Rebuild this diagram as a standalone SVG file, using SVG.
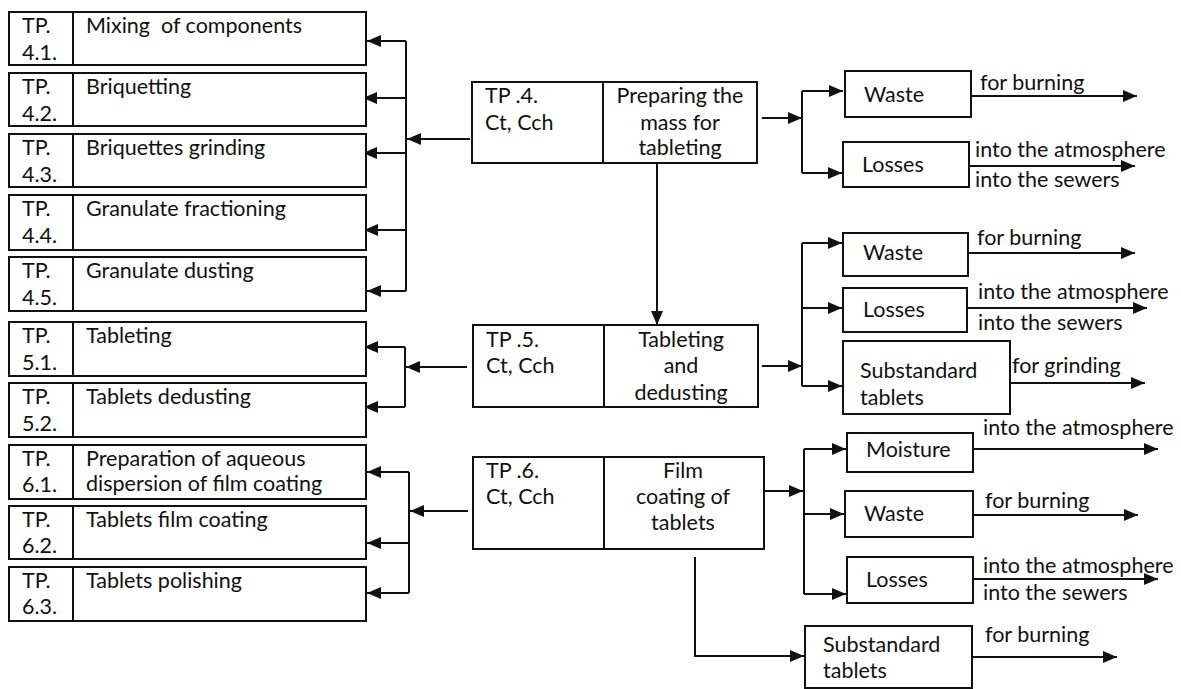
<svg xmlns="http://www.w3.org/2000/svg" width="1181" height="689" viewBox="0 0 1181 689">
<style>
text{font-family:Lato,"Liberation Sans",sans-serif;font-size:21.5px;fill:#111}
.b{fill:#fff;stroke:#111;stroke-width:2}
.d{stroke:#111;stroke-width:2}
.c{fill:none;stroke:#111;stroke-width:2}
.m{text-anchor:middle}
</style>
<defs>
<marker id="ah" markerUnits="userSpaceOnUse" markerWidth="14" markerHeight="12" refX="14" refY="6" orient="auto">
<path d="M0,0 L14,6 L0,12 z" fill="#111"/>
</marker>
</defs>
<rect width="1181" height="689" fill="#fff"/>

<g id="connectors" class="c">
<!-- group 4 left -->
<path d="M470,139 H407" marker-end="url(#ah)"/>
<path d="M406,41 V291"/>
<path d="M406,41 H367" marker-end="url(#ah)"/>
<path d="M406,98 H363" marker-end="url(#ah)"/>
<path d="M406,153 H363" marker-end="url(#ah)"/>
<path d="M406,230 H364" marker-end="url(#ah)"/>
<path d="M406,291 H367" marker-end="url(#ah)"/>
<!-- group 5 left -->
<path d="M467,367 H406" marker-end="url(#ah)"/>
<path d="M405,347 V407"/>
<path d="M405,347 H364" marker-end="url(#ah)"/>
<path d="M405,407 H364" marker-end="url(#ah)"/>
<!-- group 6 left -->
<path d="M468,511 H410" marker-end="url(#ah)"/>
<path d="M409,472 V593"/>
<path d="M409,472 H367" marker-end="url(#ah)"/>
<path d="M409,543 H367" marker-end="url(#ah)"/>
<path d="M409,593 H367" marker-end="url(#ah)"/>
<!-- vertical TP4 -> TP5 -->
<path d="M657,163 V325" marker-end="url(#ah)"/>
<!-- TP6 down to substandard -->
<path d="M695,557 V656 H804" marker-end="url(#ah)"/>
<!-- group 4 right -->
<path d="M762,118 H802" marker-end="url(#ah)"/>
<path d="M802,91 V173"/>
<path d="M802,91 H843" marker-end="url(#ah)"/>
<path d="M802,173 H842" marker-end="url(#ah)"/>
<path d="M971,96 H1137" marker-end="url(#ah)"/>
<path d="M969,166 H1135" marker-end="url(#ah)"/>
<!-- group 5 right -->
<path d="M762,366 H802" marker-end="url(#ah)"/>
<path d="M802,243 V386"/>
<path d="M802,243 H842" marker-end="url(#ah)"/>
<path d="M802,308 H842" marker-end="url(#ah)"/>
<path d="M802,386 H842" marker-end="url(#ah)"/>
<path d="M968,253 H1135" marker-end="url(#ah)"/>
<path d="M967,308 H1147" marker-end="url(#ah)"/>
<path d="M1010,383 H1145" marker-end="url(#ah)"/>
<!-- group 6 right -->
<path d="M764,491 H803" marker-end="url(#ah)"/>
<path d="M804,449 V594"/>
<path d="M804,449 H846" marker-end="url(#ah)"/>
<path d="M804,514 H844" marker-end="url(#ah)"/>
<path d="M804,594 H846" marker-end="url(#ah)"/>
<path d="M973,449 H1158" marker-end="url(#ah)"/>
<path d="M973,515 H1138" marker-end="url(#ah)"/>
<path d="M973,579 H1158" marker-end="url(#ah)"/>
<path d="M972,657 H1117" marker-end="url(#ah)"/>
</g>

<!-- left column -->
<g id="tp41"><rect class="b" x="9" y="12" width="357" height="53"/><line class="d" x1="73" y1="12" x2="73" y2="65"/><text x="22" y="33">TP.</text><text x="22" y="60">4.1.</text><text x="86" y="33" xml:space="preserve">Mixing  of components</text></g>
<g id="tp42"><rect class="b" x="9" y="73" width="357" height="53"/><line class="d" x1="73" y1="73" x2="73" y2="126"/><text x="22" y="94">TP.</text><text x="22" y="121">4.2.</text><text x="86" y="94">Briquetting</text></g>
<g id="tp43"><rect class="b" x="9" y="134" width="357" height="53"/><line class="d" x1="73" y1="134" x2="73" y2="187"/><text x="22" y="155">TP.</text><text x="22" y="182">4.3.</text><text x="86" y="155">Briquettes grinding</text></g>
<g id="tp44"><rect class="b" x="9" y="195" width="357" height="55"/><line class="d" x1="73" y1="195" x2="73" y2="250"/><text x="22" y="216">TP.</text><text x="22" y="243">4.4.</text><text x="86" y="216">Granulate fractioning</text></g>
<g id="tp45"><rect class="b" x="9" y="257" width="357" height="54"/><line class="d" x1="73" y1="257" x2="73" y2="311"/><text x="22" y="278">TP.</text><text x="22" y="305">4.5.</text><text x="86" y="278">Granulate dusting</text></g>
<g id="tp51"><rect class="b" x="9" y="322" width="357" height="54"/><line class="d" x1="73" y1="322" x2="73" y2="376"/><text x="22" y="343">TP.</text><text x="22" y="370">5.1.</text><text x="86" y="343">Tableting</text></g>
<g id="tp52"><rect class="b" x="9" y="383" width="357" height="54"/><line class="d" x1="73" y1="383" x2="73" y2="437"/><text x="22" y="404">TP.</text><text x="22" y="431">5.2.</text><text x="86" y="404">Tablets dedusting</text></g>
<g id="tp61"><rect class="b" x="9" y="445" width="357" height="54"/><line class="d" x1="73" y1="445" x2="73" y2="499"/><text x="22" y="466">TP.</text><text x="22" y="492">6.1.</text><text x="86" y="466">Preparation of aqueous</text><text x="86" y="491">dispersion of film coating</text></g>
<g id="tp62"><rect class="b" x="9" y="506" width="357" height="53"/><line class="d" x1="73" y1="506" x2="73" y2="559"/><text x="22" y="527">TP.</text><text x="22" y="553">6.2.</text><text x="86" y="527">Tablets film coating</text></g>
<g id="tp63"><rect class="b" x="9" y="567" width="357" height="54"/><line class="d" x1="73" y1="567" x2="73" y2="621"/><text x="22" y="588">TP.</text><text x="22" y="614">6.3.</text><text x="86" y="588">Tablets polishing</text></g>

<!-- center -->
<g id="tp4"><rect class="b" x="472" y="82" width="285" height="81"/><line class="d" x1="603" y1="82" x2="603" y2="163"/><text x="485" y="103">TP .4.</text><text x="485" y="130">Ct, Cch</text><text class="m" x="680" y="103">Preparing the</text><text class="m" x="680" y="130">mass for</text><text class="m" x="680" y="155">tableting</text></g>
<g id="tp5"><rect class="b" x="473" y="325" width="285" height="82"/><line class="d" x1="604" y1="325" x2="604" y2="407"/><text x="486" y="347">TP .5.</text><text x="486" y="373">Ct, Cch</text><text class="m" x="681" y="347">Tableting</text><text class="m" x="681" y="373">and</text><text class="m" x="681" y="400">dedusting</text></g>
<g id="tp6"><rect class="b" x="473" y="457" width="291" height="92"/><line class="d" x1="604" y1="457" x2="604" y2="549"/><text x="486" y="478">TP .6.</text><text x="486" y="504">Ct, Cch</text><text class="m" x="683" y="478">Film</text><text class="m" x="683" y="504">coating of</text><text class="m" x="683" y="530">tablets</text></g>

<!-- right group 4 -->
<g id="waste4"><rect class="b" x="845" y="71" width="126" height="46"/><text x="864" y="102">Waste</text></g>
<g id="losses4"><rect class="b" x="843" y="142" width="126" height="45"/><text x="862" y="172">Losses</text></g>
<g id="labels4"><text x="980" y="90">for burning</text><text x="975" y="157">into the atmosphere</text><text x="975" y="187">into the sewers</text></g>

<!-- right group 5 -->
<g id="waste5"><rect class="b" x="843" y="233" width="125" height="43"/><text x="863" y="260">Waste</text></g>
<g id="losses5"><rect class="b" x="843" y="288" width="124" height="44"/><text x="863" y="317">Losses</text></g>
<g id="sub5"><rect class="b" x="843" y="341" width="167" height="73"/><text x="860" y="378">Substandard</text><text x="860" y="405">tablets</text></g>
<g id="labels5"><text x="977" y="245">for burning</text><text x="978" y="299">into the atmosphere</text><text x="978" y="330">into the sewers</text><text x="1012" y="373">for grinding</text></g>

<!-- right group 6 -->
<g id="moisture6"><rect class="b" x="847" y="433" width="126" height="39"/><text x="866" y="457">Moisture</text></g>
<g id="waste6"><rect class="b" x="845" y="491" width="128" height="46"/><text x="864" y="521">Waste</text></g>
<g id="losses6"><rect class="b" x="847" y="557" width="126" height="46"/><text x="866" y="587">Losses</text></g>
<g id="sub6"><rect class="b" x="805" y="626" width="167" height="62"/><text x="823" y="652">Substandard</text><text x="823" y="678">tablets</text></g>
<g id="labels6"><text x="983" y="435">into the atmosphere</text><text x="985" y="508">for burning</text><text x="983" y="573">into the atmosphere</text><text x="983" y="600">into the sewers</text><text x="985" y="642">for burning</text></g>
</svg>
